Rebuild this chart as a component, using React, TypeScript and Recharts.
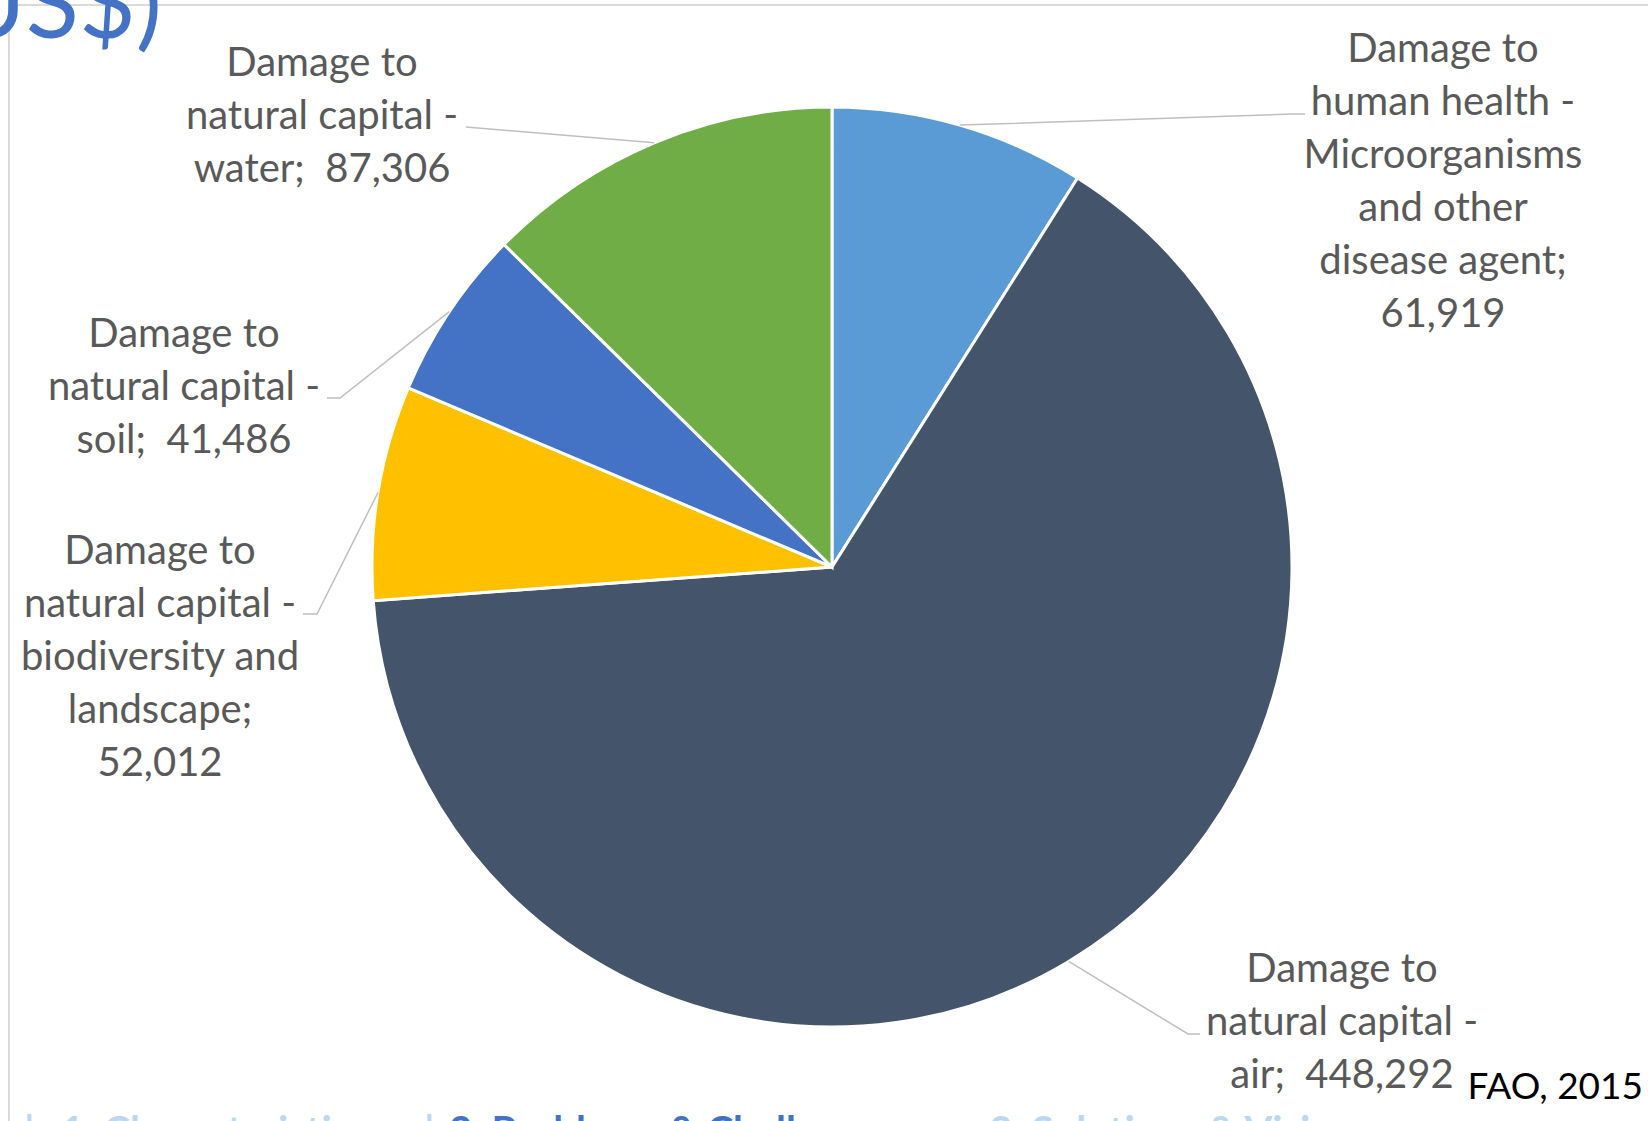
import { PieChart, Pie, Cell } from "recharts";

const CATEGORIES = [
  "Damage to human health - Microorganisms and other disease agent",
  "Damage to natural capital - air",
  "Damage to natural capital - biodiversity and landscape",
  "Damage to natural capital - soil",
  "Damage to natural capital - water",
];
const VALUES = [61919, 448292, 52012, 41486, 87306];
const COLORS = ["#5B9BD5", "#44546A", "#FFC000", "#4472C4", "#70AD47"];

// how Excel wrapped each data label; {v} is the value
const LABEL_WRAP = [
  "Damage to|human health -|Microorganisms|and other|disease agent;|{v}",
  "Damage to|natural capital -|air;  {v}",
  "Damage to|natural capital -|biodiversity and|landscape;|{v}",
  "Damage to|natural capital -|soil;  {v}",
  "Damage to|natural capital -|water;  {v}",
];

// label box placement (absolute px) and leader elbow
const LABEL_POS = [
  { x: 1443, y: 52, ex: 1292, ey: 114, hx: 1305 },
  { x: 1342, y: 972, ex: 1188, ey: 1034, hx: 1200 },
  { x: 160, y: 554, ex: 317, ey: 614, hx: 303 },
  { x: 184, y: 337, ex: 340, ey: 398, hx: 327 },
  { x: 322, y: 66, ex: 466, ey: 127, hx: 466 },
];

const NAV = [
  { text: "|", x: 24, color: "#BDD7EE" },
  { text: "1. Characteristics", x: 61, color: "#BDD7EE" },
  { text: "|", x: 424, color: "#BDD7EE" },
  { text: "2. Problems & Challenges", x: 449, color: "#4472C4" },
  { text: "3. Solutions & Vision", x: 989, color: "#BDD7EE" },
];

const data = CATEGORIES.map((name, i) => ({ name, value: VALUES[i] }));

const FONT = "Lato, 'Open Sans', sans-serif";
const RAD = Math.PI / 180;
const LINE_H = 53;

function fmt(v: number) {
  return v.toLocaleString("en-US");
}

function renderLabel(props: any) {
  const { cx, cy, midAngle, outerRadius, index } = props;
  const pos = LABEL_POS[index];
  const sx = cx + outerRadius * Math.cos(-midAngle * RAD);
  const sy = cy + outerRadius * Math.sin(-midAngle * RAD);
  const lines = LABEL_WRAP[index].replace("{v}", fmt(VALUES[index])).split("|");
  return (
    <g key={`lbl-${index}`}>
      <polyline
        points={`${sx},${sy} ${pos.ex},${pos.ey} ${pos.hx},${pos.ey}`}
        fill="none"
        stroke="#BFBFBF"
        strokeWidth={1.5}
      />
      <text
        x={pos.x}
        y={pos.y}
        textAnchor="middle"
        fill="#595959"
        fontSize={40}
        fontFamily={FONT}
        style={{ whiteSpace: "pre" }}
      >
        {lines.map((ln, i) => (
          <tspan key={i} x={pos.x} y={pos.y + i * LINE_H} dominantBaseline="middle">
            {ln}
          </tspan>
        ))}
      </text>
    </g>
  );
}

export default function App() {
  return (
    <div style={{ position: "relative", width: 1648, height: 1121, overflow: "hidden", background: "#fff" }}>
      <style>{`body{margin:0}`}</style>
      <svg width={1648} height={1121} style={{ position: "absolute", left: 0, top: 0 }}>
        <line x1={9} y1={5} x2={1648} y2={5} stroke="#D9D9D9" strokeWidth={2} />
        <line x1={9} y1={5} x2={9} y2={1121} stroke="#D9D9D9" strokeWidth={2} />
        <text x={162} y={38} textAnchor="end" fill="#4472C4" fontSize={98} fontFamily={FONT}>
          (US$)
        </text>
        <text x={1643} y={1099} textAnchor="end" fill="#000" fontSize={37} fontFamily={FONT}>
          FAO, 2015
        </text>
        {NAV.map((n, i) => (
          <text
            key={i}
            x={n.x}
            y={1145}
            fill={n.color}
            fontSize={40}
            fontWeight="bold"
            fontFamily={FONT}
          >
            {n.text}
          </text>
        ))}
      </svg>
      <div style={{ position: "absolute", left: 0, top: 0 }}>
        <PieChart width={1648} height={1121}>
          <Pie
            data={data}
            dataKey="value"
            nameKey="name"
            cx={827}
            cy={562}
            outerRadius={460}
            startAngle={90}
            endAngle={-270}
            stroke="#FFFFFF"
            strokeWidth={3}
            label={renderLabel}
            labelLine={false}
            isAnimationActive={false}
          >
            {data.map((d, i) => (
              <Cell key={d.name} fill={COLORS[i]} />
            ))}
          </Pie>
        </PieChart>
      </div>
    </div>
  );
}
